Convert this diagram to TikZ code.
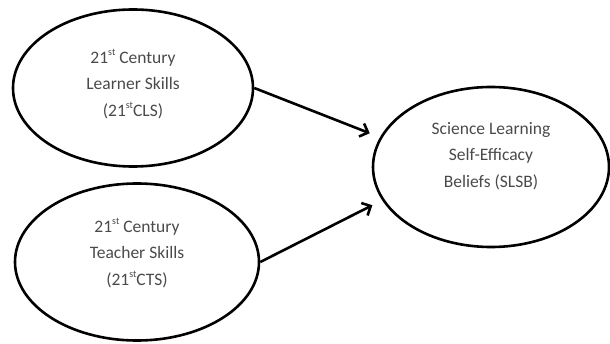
\documentclass[tikz,border=0pt]{standalone}
\usepackage{fontspec}
\setmainfont{Carlito}
\usetikzlibrary{shapes.geometric,arrows.meta}
\definecolor{txtgray}{HTML}{4A4A4A}
\newcommand{\sups}[1]{\raisebox{0.45em}{\fontsize{10}{10}\selectfont #1}}
\begin{document}
\begin{tikzpicture}[x=1pt,y=1pt,
  oval/.style={draw=black,line width=2.6pt,ellipse,inner sep=0pt},
  lbl/.style={align=center,text=txtgray,font=\fontsize{17.5}{26.5}\selectfont},
  conn/.style={line width=2.6pt,-{Straight Barb[length=7pt,width=14pt,line width=2.6pt]}}]
\useasboundingbox (0,0) rectangle (610,343);
\node[oval,minimum width=240pt,minimum height=157pt] (cls) at (133,255) {};
\node[oval,minimum width=244pt,minimum height=157pt] (cts) at (137,81) {};
\node[oval,minimum width=236pt,minimum height=160pt] (slsb) at (491,176) {};
\node[lbl] (tcls) at (133,259) {21\sups{st} Century\\Learner Skills\\(21\sups{st}CLS)};
\node[lbl] (tcts) at (137,90) {21\sups{st} Century\\Teacher Skills\\(21\sups{st}CTS)};
\node[lbl] (tslsb) at (491,187) {Science Learning\\Self-Efficacy\\Beliefs (SLSB)};
\draw[conn,shorten >=11pt] (cls.east) -- (slsb.165);
\draw[conn,shorten >=11pt] (cts.east) -- (slsb.197);
\end{tikzpicture}
\end{document}
